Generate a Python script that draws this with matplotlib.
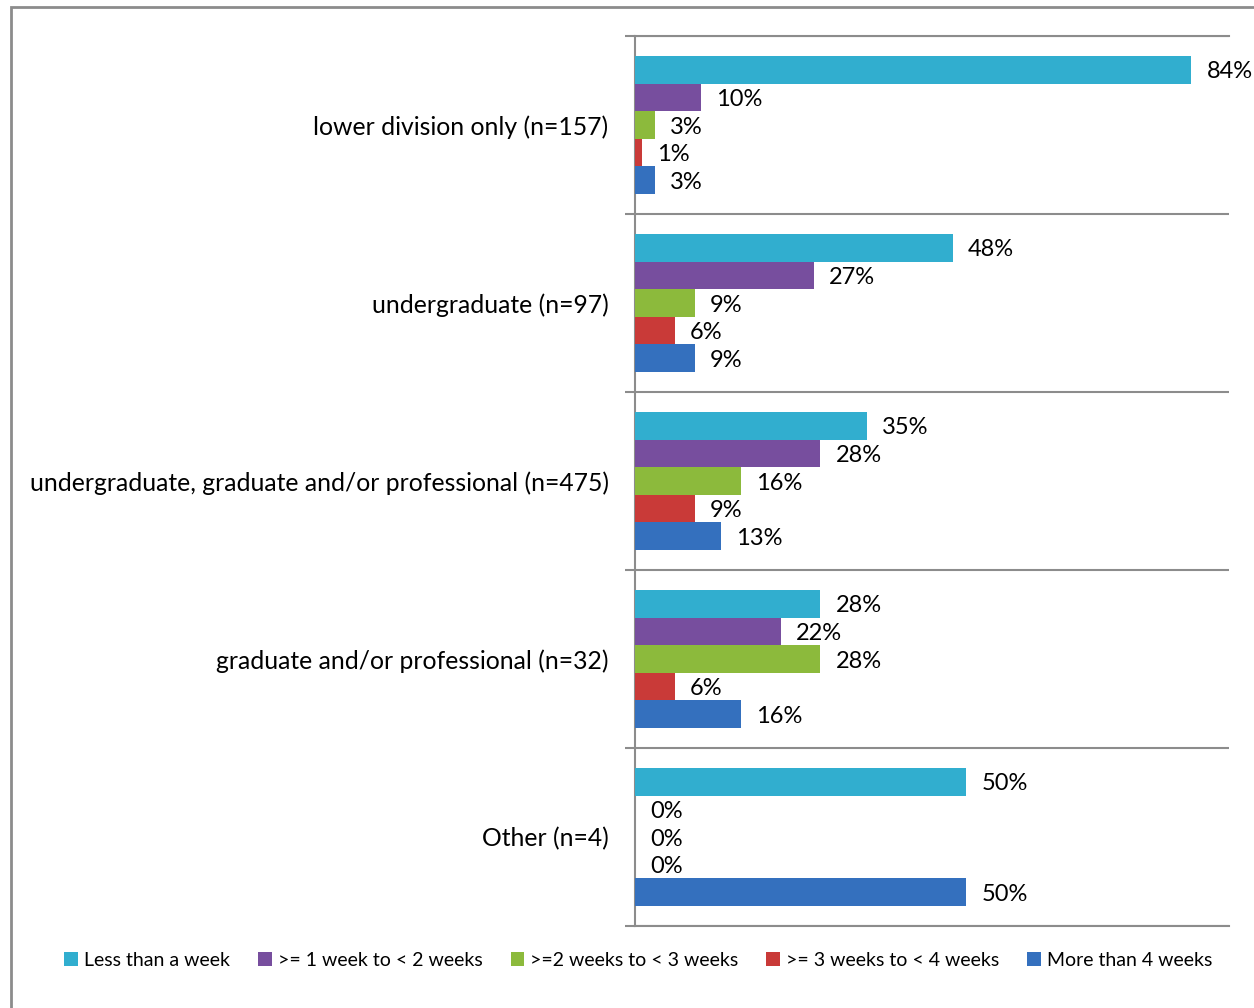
import numpy as np
import matplotlib.pyplot as plt
from matplotlib.patches import Rectangle

plt.rcParams['font.family'] = ['Lato', 'DejaVu Sans']

categories = ['lower division only (n=157)', 'undergraduate (n=97)',
              'undergraduate, graduate and/or professional (n=475)',
              'graduate and/or professional (n=32)', 'Other (n=4)']
series = ['Less than a week', '>= 1 week to < 2 weeks', '>=2 weeks to < 3 weeks',
          '>= 3 weeks to < 4 weeks', 'More than 4 weeks']
less_week = [84, 48, 35, 28, 50]
one_two = [10, 27, 28, 22, 0]
two_three = [3, 9, 16, 28, 0]
three_four = [1, 6, 9, 6, 0]
more_four = [3, 9, 13, 16, 50]
colors = ['#31AECF', '#774E9E', '#8CBA3C', '#C93A38', '#3470BE']

values = [less_week, one_two, two_three, three_four, more_four]

fig = plt.figure(figsize=(12.54, 10.08), dpi=100)
ax = fig.add_axes([635/1254, 1-926/1008, (1229-635)/1254, (926-36)/1008])

n = len(categories)
centers = np.arange(n)[::-1]
h = 0.155
for j, (vals, c) in enumerate(zip(values, colors)):
    y = centers + (2 - j) * h
    ax.barh(y, vals, height=h, color=c, label=series[j], zorder=3)
    for yy, v in zip(y, vals):
        ax.text(v + 2.3, yy - 0.012, '%d%%' % v, va='center', ha='left', fontsize=17, color='black')

ax.set_xlim(0, 89.7)
ax.set_ylim(-0.5, n - 0.5)
ax.set_xticks([])
ax.set_yticks(centers)
ax.set_yticklabels(categories, fontsize=17.8)
ax.tick_params(axis='y', which='major', length=0, pad=19)
ax.set_yticks(np.arange(-0.5, n, 1), minor=True)
ax.tick_params(axis='y', which='minor', length=7, color='#8c8c8c', width=1.5)
ax.grid(axis='y', which='minor', color='#8c8c8c', linewidth=1.5, zorder=1)
ax.spines['right'].set_visible(False)
for s in ['left', 'top', 'bottom']:
    ax.spines[s].set_color('#8c8c8c')
    ax.spines[s].set_linewidth(1.5)

fig.patches.append(Rectangle((11/1254, -0.1), 1.2, 1.1 - 7/1008, transform=fig.transFigure,
                             fill=False, edgecolor='#8c8c8c', linewidth=2))

handles, labels = ax.get_legend_handles_labels()
fig.legend(handles, labels, loc='center', bbox_to_anchor=(0.509, 1-960/1008), ncol=5,
           frameon=False, fontsize=14, handlelength=0.7, handleheight=0.7,
           handletextpad=0.3, columnspacing=1.45)

fig.savefig('out.png', dpi=100)
